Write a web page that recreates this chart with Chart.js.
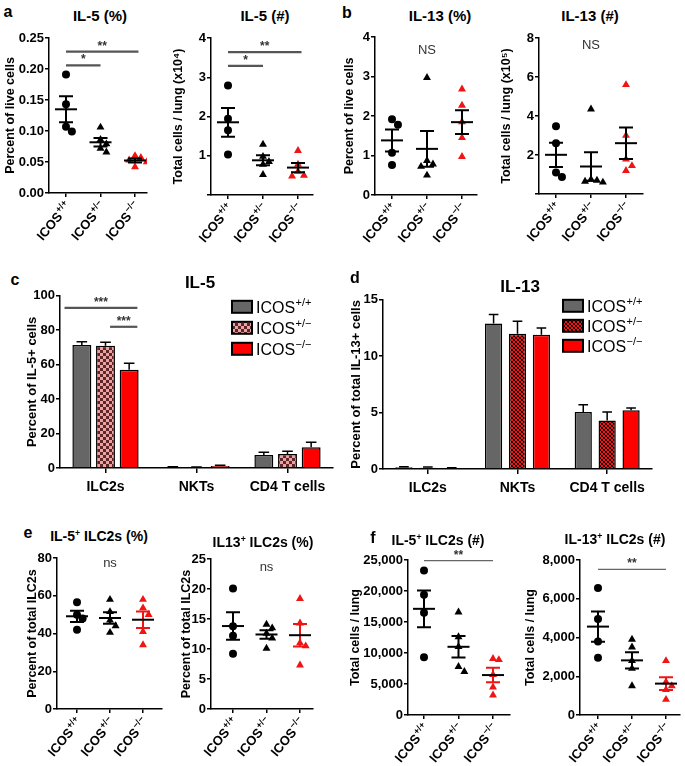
<!DOCTYPE html>
<html>
<head>
<meta charset="utf-8">
<script src="https://cdn.jsdelivr.net/npm/chart.js@4.4.0/dist/chart.umd.min.js"></script>
<style>
body { margin: 0; background: #fff; }
#fig { position: relative; width: 685px; height: 766px; overflow: hidden; font-family: 'Liberation Sans', Arial, sans-serif; }
#fig canvas { position: absolute; }
.t { position: absolute; transform: translate(-50%, -50%); white-space: nowrap; font-weight: bold; color: #000; }
.t sup { font-size: 0.62em; vertical-align: 0.6em; line-height: 0; }
</style>
</head>
<body>
<div id="fig"></div>
<script>
// genotypes (tick label superscripts)
var genotypes = ['+/+', '+/\u2212', '\u2212/\u2212'];
var cellTypes = ['ILC2s', 'NKTs', 'CD4 T cells'];

// a: IL-5
var il5PctWT = [0.191, 0.143, 0.107, 0.099];
var il5PctHet = [0.106, 0.086, 0.079, 0.072, 0.066];
var il5PctKO = [0.060, 0.057, 0.053, 0.050, 0.042];
var il5NumWT = [2.79, 1.94, 1.65, 1.03];
var il5NumHet = [1.29, 0.98, 0.85, 0.78, 0.52];
var il5NumKO = [1.13, 0.78, 0.60, 0.50, 0.48];

// b: IL-13
var il13PctWT = [1.92, 1.78, 1.07, 0.76];
var il13PctHet = [2.97, 0.87, 0.78, 0.72, 0.50];
var il13PctKO = [2.68, 2.27, 1.85, 1.45, 0.97];
var il13NumWT = [3.47, 2.60, 1.10, 0.87];
var il13NumHet = [4.35, 0.75, 0.70, 0.65, 0.60];
var il13NumKO = [5.60, 3.00, 1.78, 1.45, 1.20];

// c: IL-5 bars (mean, sem)
var il5BarWT = [71.5, 0.5, 7.5];
var il5ErrWT = [1.8, 0.2, 1.6];
var il5BarHet = [71.0, 0.4, 8.2];
var il5ErrHet = [2.0, 0.2, 1.5];
var il5BarKO = [57.0, 1.2, 12.0];
var il5ErrKO = [3.8, 0.4, 3.0];

// d: IL-13 bars
var il13BarWT = [0.15, 12.9, 5.05];
var il13ErrWT = [0.05, 0.8, 0.65];
var il13BarHet = [0.12, 12.0, 4.3];
var il13ErrHet = [0.05, 1.1, 0.75];
var il13BarKO = [0.08, 11.9, 5.2];
var il13ErrKO = [0.03, 0.6, 0.2];

// e: % of ILC2s
var ilc5PctWT = [56.5, 50, 48, 42];
var ilc5PctHet = [58, 51.5, 47, 44, 40.5];
var ilc5PctKO = [58, 53.5, 50, 41, 34];
var ilc13PctWT = [20.1, 13.8, 12.2, 9.2];
var ilc13PctHet = [14.1, 13.5, 12.6, 11.8, 10.1];
var ilc13PctKO = [18.4, 14.3, 11.0, 10.5, 7.3];

// f: ILC2 numbers
var ilc5NumWT = [23300, 19400, 16500, 9300];
var ilc5NumHet = [16600, 12600, 11000, 7800, 7000];
var ilc5NumKO = [9100, 8900, 6500, 4500, 3200];
var ilc13NumWT = [6550, 4950, 3800, 2950];
var ilc13NumHet = [3900, 3500, 2800, 2400, 1500];
var ilc13NumKO = [2800, 1700, 1500, 1300, 800];

var RED = '#f01414';
var FONT = "'Liberation Sans', Arial, sans-serif";
Chart.defaults.font.family = FONT;
Chart.defaults.color = '#000';
var fig = document.getElementById('fig');

function text(html, x, y, size) {
    var d = document.createElement('div');
    d.className = 't';
    d.innerHTML = html;
    d.style.left = x + 'px';
    d.style.top = y + 'px';
    d.style.fontSize = size + 'px';
    fig.appendChild(d);
}

function supText(ctx, base, sup, x, y, size, weight, align) {
    var ss = Math.round(size * 0.68);
    ctx.font = weight + ' ' + size + 'px ' + FONT;
    var w1 = ctx.measureText(base).width;
    ctx.font = weight + ' ' + ss + 'px ' + FONT;
    var w2 = ctx.measureText(sup).width;
    var x0 = align === 'right' ? x - w1 - w2 : x;
    ctx.textAlign = 'left';
    ctx.textBaseline = 'alphabetic';
    ctx.font = weight + ' ' + size + 'px ' + FONT;
    ctx.fillText(base, x0, y);
    ctx.font = weight + ' ' + ss + 'px ' + FONT;
    ctx.fillText(sup, x0 + w1 + 0.5, y - size * 0.42);
}

function meanSem(a) {
    var m = a.reduce(function (s, v) { return s + v; }, 0) / a.length;
    var sd = Math.sqrt(a.reduce(function (s, v) { return s + (v - m) * (v - m); }, 0) / (a.length - 1));
    return [m, sd / Math.sqrt(a.length)];
}

// spread points that would overlap, like a scatter dot plot
function spread(vals, thr) {
    var placed = [];
    var opts = [0, 0.17, -0.17, 0.34, -0.34];
    return vals.map(function (v) {
        for (var k = 0; k < opts.length; k++) {
            var o = opts[k];
            var hit = placed.some(function (p) { return Math.abs(p.v - v) < thr && Math.abs(p.o - o) < 0.15; });
            if (!hit) { placed.push({ v: v, o: o }); return o; }
        }
        placed.push({ v: v, o: 0 });
        return 0;
    });
}

function checker(c1, c2, s) {
    var cv = document.createElement('canvas');
    cv.width = cv.height = s * 2;
    var x = cv.getContext('2d');
    x.fillStyle = c1; x.fillRect(0, 0, s * 2, s * 2);
    x.fillStyle = c2; x.fillRect(0, 0, s, s); x.fillRect(s, s, s, s);
    return x.createPattern(cv, 'repeat');
}

function yAxis(p, size) {
    return {
        min: p.min, max: p.max,
        afterFit: function (s) { s.width = p.yw; },
        ticks: { stepSize: p.step, color: '#000', padding: 1, font: { weight: 'bold', size: size }, callback: p.fmt },
        grid: { drawOnChartArea: false, tickLength: 4, color: '#000', lineWidth: 1.5 },
        border: { color: '#000', width: 1.5 },
        title: { display: true, text: p.yTitle, color: '#000', padding: 0, font: { weight: 'bold', size: p.ts || 12.5 } }
    };
}

function drawSig(ctx, sig, px, py, thin) {
    sig.forEach(function (s) {
        var x0 = px(s[0]), x1 = px(s[1]), yy = py(s[2]);
        ctx.strokeStyle = thin ? '#666' : '#555';
        ctx.lineWidth = thin ? 1.2 : 2.2;
        ctx.beginPath(); ctx.moveTo(x0, yy); ctx.lineTo(x1, yy); ctx.stroke();
        ctx.fillStyle = '#333';
        ctx.font = 'bold 12px ' + FONT;
        ctx.textAlign = 'center'; ctx.textBaseline = 'alphabetic';
        ctx.fillText(s[3], (x0 + x1) / 2, yy - 2);
    });
}

function scatterPanel(p) {
    var padTop = 10, padRight = 8, xh = 62;
    var L = p.box[0], T = p.box[1], R = p.box[2], B = p.box[3];
    var sp = (p.cats[2] - p.cats[0]) / 2;
    var cv = document.createElement('canvas');
    cv.width = R - L + p.yw + padRight;
    cv.height = B - T + padTop + xh;
    cv.style.left = (L - p.yw) + 'px';
    cv.style.top = (T - padTop) + 'px';
    fig.appendChild(cv);
    var thr = (p.max - p.min) * 0.045;
    var datasets = p.groups.map(function (vals, g) {
        var offs = spread(vals, thr);
        return {
            data: vals.map(function (v, i) { return { x: g + offs[i], y: v }; }),
            pointStyle: g === 0 ? 'circle' : 'triangle',
            pointRadius: g === 0 ? 4 : 4.6,
            backgroundColor: g === 2 ? RED : '#000',
            borderWidth: 0
        };
    });
    new Chart(cv, {
        type: 'scatter',
        data: { datasets: datasets },
        options: {
            responsive: false, animation: false, events: [],
            layout: { padding: { top: padTop, right: padRight, bottom: 0, left: 0 } },
            plugins: { legend: { display: false }, tooltip: { enabled: false } },
            scales: {
                x: {
                    type: 'linear',
                    min: (L - p.cats[0]) / sp, max: (R - p.cats[0]) / sp,
                    afterBuildTicks: function (s) { s.ticks = [0, 1, 2].map(function (v) { return { value: v }; }); },
                    afterFit: function (s) { s.height = xh; },
                    ticks: { display: false },
                    grid: { drawOnChartArea: false, tickLength: 4, color: '#000', lineWidth: 1.5 },
                    border: { color: '#000', width: 1.5 }
                },
                y: yAxis(p, 13)
            }
        },
        plugins: [{
            id: 'marks',
            afterDraw: function (chart) {
                var ctx = chart.ctx, x = chart.scales.x, y = chart.scales.y, ca = chart.chartArea;
                ctx.save();
                p.groups.forEach(function (vals, g) {
                    var ms = meanSem(vals), m = ms[0], se = ms[1];
                    var cx = x.getPixelForValue(g);
                    ctx.lineWidth = 2;
                    ctx.strokeStyle = (p.redSem && g === 2) ? RED : '#000';
                    ctx.beginPath();
                    ctx.moveTo(cx, y.getPixelForValue(m - se));
                    ctx.lineTo(cx, y.getPixelForValue(m + se));
                    [m - se, m + se].forEach(function (v) {
                        var py = y.getPixelForValue(v);
                        ctx.moveTo(cx - 7, py); ctx.lineTo(cx + 7, py);
                    });
                    ctx.stroke();
                    ctx.strokeStyle = '#000';
                    ctx.beginPath();
                    var pm = y.getPixelForValue(m);
                    ctx.moveTo(cx - 11, pm); ctx.lineTo(cx + 11, pm);
                    ctx.stroke();
                });
                if (p.sig) {
                    drawSig(ctx, p.sig, function (v) { return x.getPixelForValue(v); },
                        function (v) { return y.getPixelForValue(v); }, p.thin);
                }
                if (p.note) {
                    ctx.fillStyle = '#333';
                    ctx.font = '13px ' + FONT;
                    ctx.textAlign = 'center'; ctx.textBaseline = 'middle';
                    ctx.fillText(p.note[2], x.getPixelForValue(p.note[0]), y.getPixelForValue(p.note[1]));
                }
                ctx.fillStyle = '#000';
                genotypes.forEach(function (s, i) {
                    ctx.save();
                    ctx.translate(x.getPixelForValue(i) + 2, ca.bottom + 11);
                    ctx.rotate(-50 * Math.PI / 180);
                    supText(ctx, 'ICOS', s, 0, 4.5, 13, 'bold', 'right');
                    ctx.restore();
                });
                ctx.restore();
            }
        }]
    });
}

function barPanel(p) {
    var padTop = 8, padRight = 6, xh = 30;
    var L = p.box[0], T = p.box[1], R = p.box[2], B = p.box[3];
    var cv = document.createElement('canvas');
    cv.width = R - L + p.yw + padRight;
    cv.height = B - T + padTop + xh;
    cv.style.left = (L - p.yw) + 'px';
    cv.style.top = (T - padTop) + 'px';
    fig.appendChild(cv);
    var datasets = p.sets.map(function (s) {
        return {
            data: s.vals, backgroundColor: s.fill, borderColor: '#000', borderWidth: 1.5,
            categoryPercentage: p.catPct, barPercentage: p.barPct
        };
    });
    new Chart(cv, {
        type: 'bar',
        data: { labels: cellTypes, datasets: datasets },
        options: {
            responsive: false, animation: false, events: [],
            layout: { padding: { top: padTop, right: padRight, bottom: 0, left: 0 } },
            plugins: { legend: { display: false }, tooltip: { enabled: false } },
            scales: {
                x: {
                    afterFit: function (s) { s.height = xh; },
                    ticks: { color: '#000', padding: 6, font: { weight: 'bold', size: 14 } },
                    grid: { offset: false, drawOnChartArea: false, tickLength: 5, color: '#000', lineWidth: 1.5 },
                    border: { color: '#000', width: 1.5 }
                },
                y: yAxis(p, 13)
            }
        },
        plugins: [{
            id: 'errs',
            afterDraw: function (chart) {
                var ctx = chart.ctx, x = chart.scales.x, y = chart.scales.y, ca = chart.chartArea;
                ctx.save();
                ctx.strokeStyle = '#000';
                ctx.lineWidth = 1.5;
                p.sets.forEach(function (s, k) {
                    var meta = chart.getDatasetMeta(k);
                    meta.data.forEach(function (bar, j) {
                        var top = y.getPixelForValue(s.vals[j] + s.errs[j]);
                        var hw = bar.width * 0.28;
                        ctx.beginPath();
                        ctx.moveTo(bar.x, bar.y); ctx.lineTo(bar.x, top);
                        ctx.moveTo(bar.x - hw, top); ctx.lineTo(bar.x + hw, top);
                        ctx.stroke();
                    });
                });
                if (p.sig) {
                    var cw = x.width / cellTypes.length, c0 = x.getPixelForValue(0);
                    drawSig(ctx, p.sig, function (u) { return c0 + u * cw; },
                        function (v) { return y.getPixelForValue(v); }, false);
                }
                p.sets.forEach(function (s, k) {
                    var bx = ca.left + p.legend[0], by = ca.top + p.legend[1] + k * p.legend[2];
                    ctx.fillStyle = s.fill;
                    ctx.fillRect(bx, by - 6, 20, 12);
                    ctx.lineWidth = 2;
                    ctx.strokeStyle = '#000';
                    ctx.strokeRect(bx, by - 6, 20, 12);
                    ctx.fillStyle = '#000';
                    supText(ctx, 'ICOS', genotypes[k], bx + 24, by + 6, 16, 'normal', 'left');
                });
                ctx.restore();
            }
        }]
    });
}

var checkC = checker('#f0a0a0', '#5a2828', 3);
var checkD = checker('#ff1010', '#1a0000', 2);
var fmt2 = function (v) { return v.toFixed(2); };
var noZero = function (v) { return v === 0 ? '' : v; };
var commas = function (v) { return v.toLocaleString('en-US'); };

scatterPanel({ box: [49, 38, 147, 193], cats: [66, 101, 135], yw: 46, min: 0, max: 0.25, step: 0.05, fmt: fmt2,
    yTitle: 'Percent of live cells', groups: [il5PctWT, il5PctHet, il5PctKO],
    sig: [[0, 2.1, 0.228, '**'], [0, 1, 0.206, '*']] });
scatterPanel({ box: [211, 38, 313, 195], cats: [228, 263, 298], yw: 40, min: 0, max: 4, step: 1, fmt: noZero,
    yTitle: 'Total cells / lung (x10\u2074)', groups: [il5NumWT, il5NumHet, il5NumKO],
    sig: [[0, 2.1, 3.64, '**'], [0, 1, 3.29, '*']] });
scatterPanel({ box: [375, 37, 477, 195], cats: [392, 427, 462], yw: 33, min: 0, max: 4, step: 1,
    yTitle: 'Percent of live cells', groups: [il13PctWT, il13PctHet, il13PctKO], note: [1, 3.65, 'NS'] });
scatterPanel({ box: [539, 38, 643, 194], cats: [556, 592, 626], yw: 40, min: 0, max: 8, step: 2, fmt: noZero,
    yTitle: 'Total cells / lung (x10\u2075)', groups: [il13NumWT, il13NumHet, il13NumKO], note: [1, 7.6, 'NS'] });

barPanel({ box: [60, 295, 333, 468], yw: 35, min: 0, max: 100, step: 20, ts: 13,
    yTitle: 'Percent of IL-5+ cells', catPct: 0.78, barPct: 0.8, legend: [172, 11, 21],
    sets: [{ vals: il5BarWT, errs: il5ErrWT, fill: '#666666' },
           { vals: il5BarHet, errs: il5ErrHet, fill: checkC },
           { vals: il5BarKO, errs: il5ErrKO, fill: '#ff0000' }],
    sig: [[-0.45, 0.35, 93, '***'], [0.05, 0.35, 82, '***']] });
barPanel({ box: [383, 299, 652, 469], yw: 34, min: 0, max: 15, step: 5, ts: 13,
    yTitle: 'Percent of total IL-13+ cells', catPct: 0.8, barPct: 0.72, legend: [180, 6, 20],
    sets: [{ vals: il13BarWT, errs: il13ErrWT, fill: '#666666' },
           { vals: il13BarHet, errs: il13ErrHet, fill: checkD },
           { vals: il13BarKO, errs: il13ErrKO, fill: '#ff0000' }] });

scatterPanel({ box: [57, 558, 162, 709], cats: [77, 110, 143], yw: 32, min: 0, max: 80, step: 20,
    yTitle: 'Percent of total ILC2s', groups: [ilc5PctWT, ilc5PctHet, ilc5PctKO], note: [1, 77, 'ns'], redSem: true });
scatterPanel({ box: [211, 559, 313, 709], cats: [233, 267, 300], yw: 32, min: 0, max: 25, step: 5,
    yTitle: 'Percent of total ILC2s', groups: [ilc13PctWT, ilc13PctHet, ilc13PctKO], note: [1, 23.6, 'ns'], redSem: true });
scatterPanel({ box: [408, 560, 510, 715], cats: [424, 458, 493], yw: 60, min: 0, max: 25000, step: 5000, fmt: commas,
    yTitle: 'Total cells / lung', groups: [ilc5NumWT, ilc5NumHet, ilc5NumKO],
    sig: [[0, 2, 24900, '**']], thin: true, redSem: true });
scatterPanel({ box: [580, 560, 680, 715], cats: [598, 632, 666], yw: 57, min: 0, max: 8000, step: 2000, fmt: commas,
    yTitle: 'Total cells / lung', groups: [ilc13NumWT, ilc13NumHet, ilc13NumKO],
    sig: [[0, 2, 7520, '**']], thin: true, redSem: true });

// panel letters and titles
text('a', 8, 12, 16);
text('IL-5 (%)', 100, 15, 15);
text('IL-5 (#)', 265, 15, 15);
text('b', 347, 13, 16);
text('IL-13 (%)', 440, 15, 15);
text('IL-13 (#)', 590, 15, 15);
text('c', 15, 280, 16);
text('IL-5', 200, 283, 17);
text('d', 355, 278, 16);
text('IL-13', 520, 287, 17);
text('e', 28, 533, 16);
text('IL-5<sup>+</sup> ILC2s (%)', 99, 536, 14);
text('IL13<sup>+</sup> ILC2s (%)', 263, 542, 14);
text('f', 373, 538, 16);
text('IL-5<sup>+</sup> ILC2s (#)', 438, 540, 14);
text('IL-13<sup>+</sup> ILC2s (#)', 615, 539, 14);
</script>
</body>
</html>
